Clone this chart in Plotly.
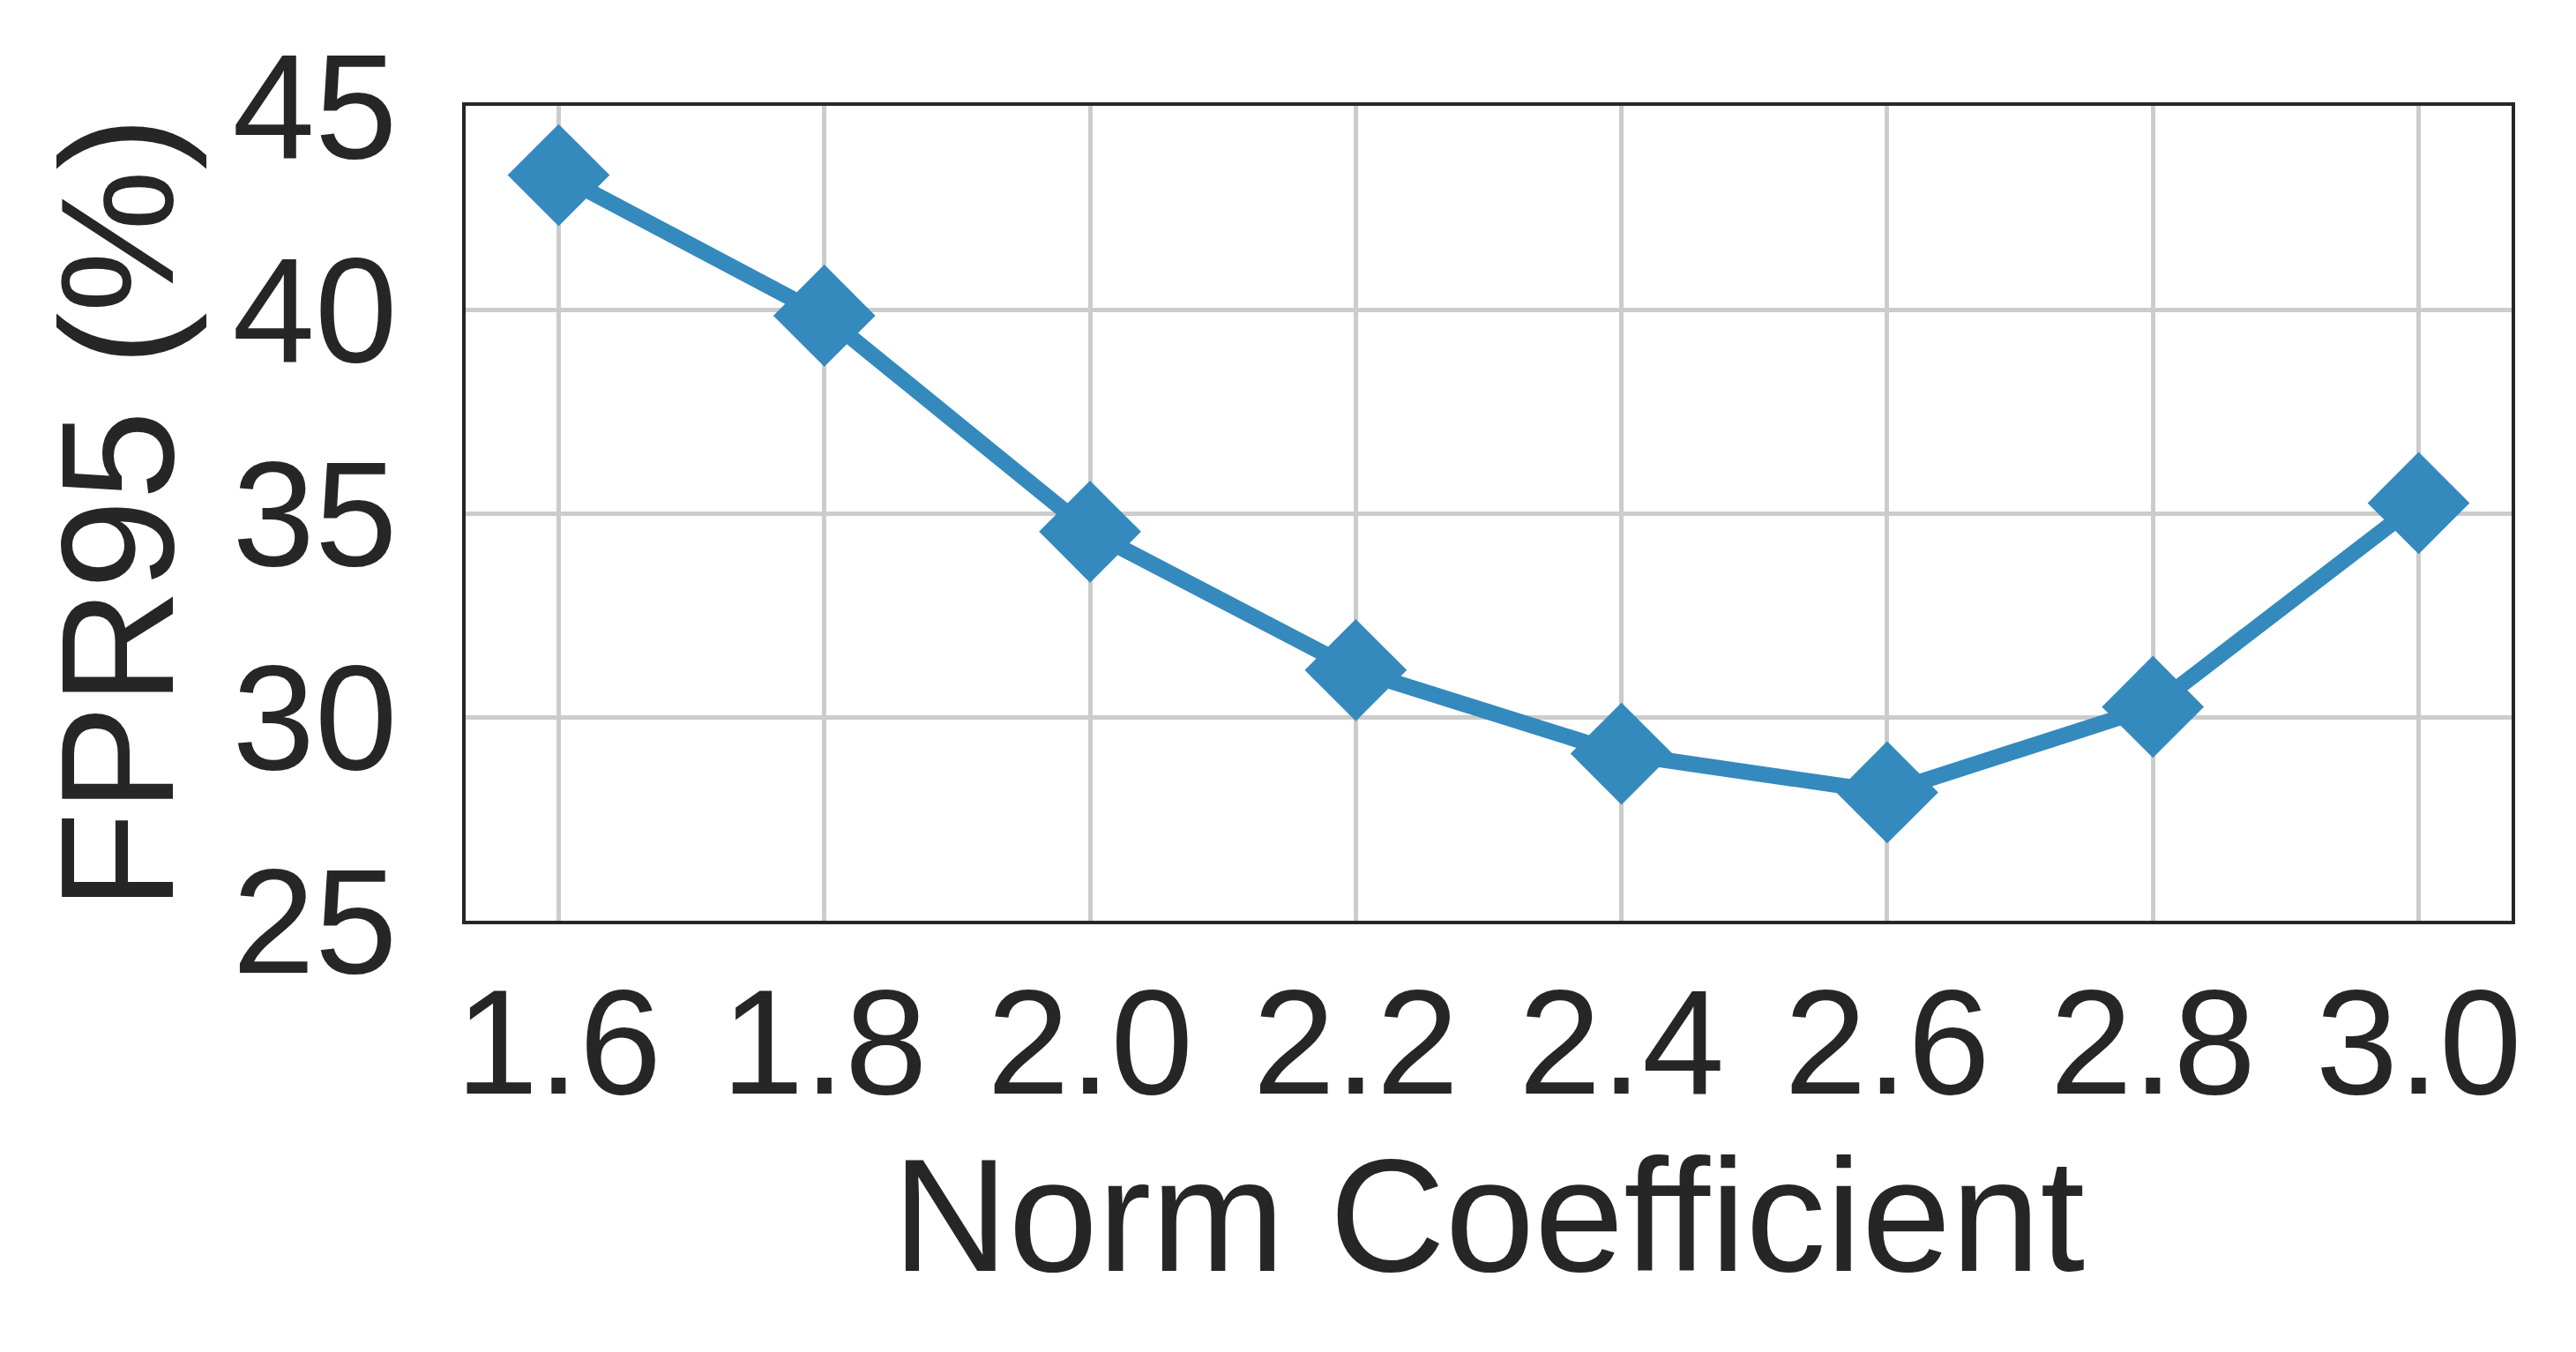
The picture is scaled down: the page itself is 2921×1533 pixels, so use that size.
import plotly.graph_objects as go

norm_coef = [1.6, 1.8, 2.0, 2.2, 2.4, 2.6, 2.8, 3.0]
fpr95 = [43.3, 39.85, 34.55, 31.15, 29.1, 28.15, 30.25, 35.25]
x_ticks = [1.6, 1.8, 2.0, 2.2, 2.4, 2.6, 2.8, 3.0]
x_ticklabels = ["1.6", "1.8", "2.0", "2.2", "2.4", "2.6", "2.8", "3.0"]
y_ticks = [25, 30, 35, 40, 45]

blue = "#348ABD"
ink = "#262626"

fig = go.Figure()
fig.add_trace(go.Scatter(
    x=norm_coef, y=fpr95,
    mode="lines+markers",
    line=dict(color=blue, width=18),
    marker=dict(symbol="diamond", size=89, color=blue, line=dict(width=0)),
    showlegend=False,
))

axis_common = dict(
    showgrid=True, gridcolor="#cccccc", gridwidth=4.5,
    showline=True, linecolor=ink, linewidth=4, mirror=True,
    ticks="", zeroline=False,
    tickfont=dict(size=168, color=ink, family="Liberation Sans, Arial"),
    title_font=dict(size=182, color=ink, family="Liberation Sans, Arial"),
)

fig.update_xaxes(
    range=[1.53, 3.07], tickvals=x_ticks, ticktext=x_ticklabels,
    title_text="Norm Coefficient", title_standoff=22, ticklabelstandoff=-10,
    **axis_common,
)
fig.update_yaxes(
    range=[25, 45], tickvals=y_ticks,
    title_text="FPR95 (%)", title_standoff=6, ticklabelstandoff=40,
    **axis_common,
)

# page body has an 8px margin, so pull the plot area back by that much
fig.update_layout(
    width=2921, height=1533, autosize=False,
    margin=dict(l=520, r=81, t=112, b=497),
    paper_bgcolor="white", plot_bgcolor="white",
)

fig.write_html("out.html")
